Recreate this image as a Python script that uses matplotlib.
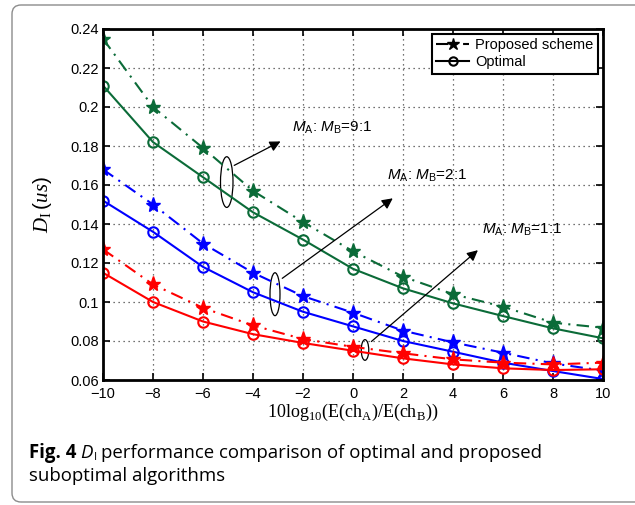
import numpy as np
import matplotlib
matplotlib.use('Agg')
import matplotlib.pyplot as plt
from matplotlib.patches import Ellipse, FancyBboxPatch
from matplotlib.transforms import IdentityTransform

plt.rcParams['font.family'] = ['Liberation Sans', 'DejaVu Sans']
plt.rcParams['mathtext.fontset'] = 'custom'
plt.rcParams['mathtext.rm'] = 'Liberation Sans'
plt.rcParams['mathtext.it'] = 'Liberation Sans:italic'
plt.rcParams['mathtext.sf'] = 'Liberation Serif'
plt.rcParams['mathtext.cal'] = 'Liberation Serif:italic'

# snr ratio in dB
x = [-10, -8, -6, -4, -2, 0, 2, 4, 6, 8, 10]

# M_A:M_B = 9:1
prop_91 = [0.235, 0.200, 0.179, 0.157, 0.141, 0.126, 0.113, 0.104, 0.0976, 0.0894, 0.0868]
opt_91 = [0.211, 0.182, 0.164, 0.146, 0.132, 0.117, 0.107, 0.0993, 0.0928, 0.0865, 0.0814]
# M_A:M_B = 2:1
prop_21 = [0.168, 0.150, 0.130, 0.115, 0.103, 0.0945, 0.0853, 0.0793, 0.0740, 0.0685, 0.0648]
opt_21 = [0.152, 0.136, 0.118, 0.105, 0.095, 0.0875, 0.0800, 0.0745, 0.0689, 0.0646, 0.0605]
# M_A:M_B = 1:1
prop_11 = [0.127, 0.109, 0.097, 0.088, 0.081, 0.077, 0.0737, 0.0706, 0.0689, 0.0680, 0.0689]
opt_11 = [0.115, 0.100, 0.090, 0.0835, 0.079, 0.075, 0.0711, 0.0680, 0.0660, 0.0651, 0.0655]

green = '#0b6b38'
blue = '#0000ff'
red = '#ff0000'

fig = plt.figure(figsize=(6.35, 5.05), dpi=100)

# caption box border
border = FancyBboxPatch((12, 3), 700, 497, boxstyle='round,pad=0,rounding_size=9',
                        transform=IdentityTransform(), fc='none', ec='#8c8c8c', lw=1.0)
fig.patches.append(border)

ax = fig.add_axes([103 / 635, 1 - 380 / 505, 500 / 635, 351 / 505])

for prop, opt, c in [(prop_91, opt_91, green), (prop_21, opt_21, blue), (prop_11, opt_11, red)]:
    ax.plot(x, prop, color=c, lw=1.5, ls=(0, (6, 3, 1, 3)), marker='*', ms=11, mec=c, mfc=c)
    ax.plot(x, opt, '-', color=c, lw=1.5, marker='o', ms=7.5, mfc='none', mec=c, mew=1.5)

# legend handles in black
ax.plot([], [], color='k', lw=1.5, ls=(0, (6, 3, 1, 3)), marker='*', ms=9, label='Proposed scheme')
ax.plot([], [], '-', color='k', lw=1.5, marker='o', ms=6, mfc='none', mew=1.5, label='Optimal')
leg = ax.legend(loc='upper right', fancybox=False, framealpha=1, edgecolor='k',
                fontsize=10.5, borderaxespad=0.35, handlelength=2.3, borderpad=0.3,
                labelspacing=0.2, handletextpad=0.4)
leg.get_frame().set_linewidth(1.5)

ax.set_xlim(-10, 10)
ax.set_ylim(0.06, 0.24)
ax.set_xticks(np.arange(-10, 11, 2))
ax.set_yticks(np.arange(0.06, 0.2401, 0.02))
ax.set_yticklabels(['%g' % round(v, 2) for v in np.arange(0.06, 0.2401, 0.02)])
ax.grid(True, ls=(0, (1, 3)), color='#444444', lw=0.9)
ax.tick_params(direction='in', top=True, right=True, length=5, width=1.2, labelsize=10.5)
ax.tick_params(axis='x', pad=5)
ax.tick_params(axis='y', pad=3)
for s in ax.spines.values():
    s.set_linewidth(2)

ax.set_xlabel(r'10log$_{\mathsf{10}}$(E(ch$_{\mathsf{A}}$)/E(ch$_{\mathsf{B}}$))',
              family='Liberation Serif', fontsize=13, labelpad=1)
ax.set_ylabel(r'$\mathcal{D}_{\mathsf{I}}\,(\mathcal{us})$', fontsize=15, labelpad=12)

# ellipses + arrows
ax.add_patch(Ellipse((-5.05, 0.1615), 0.5, 0.026, fc='none', ec='k', lw=0.9))
ax.annotate('', xy=(-2.8, 0.183), xytext=(-4.85, 0.1694),
            arrowprops=dict(arrowstyle='-|>', color='k', lw=0.9, mutation_scale=16))
ax.text(-2.45, 0.1895, r'$M_{\mathrm{A}}$: $M_{\mathrm{B}}$=9:1', fontsize=11, va='center')

ax.add_patch(Ellipse((-3.12, 0.104), 0.4, 0.022, fc='none', ec='k', lw=0.9))
ax.annotate('', xy=(1.68, 0.154), xytext=(-2.92, 0.1113),
            arrowprops=dict(arrowstyle='-|>', color='k', lw=0.9, mutation_scale=16))
ax.text(1.35, 0.1645, r'$M_{\mathrm{A}}$: $M_{\mathrm{B}}$=2:1', fontsize=11, va='center')

ax.add_patch(Ellipse((0.48, 0.0754), 0.3, 0.0106, fc='none', ec='k', lw=0.9))
ax.annotate('', xy=(5.08, 0.1275), xytext=(0.65, 0.0788),
            arrowprops=dict(arrowstyle='-|>', color='k', lw=0.9, mutation_scale=16))
ax.text(5.15, 0.1372, r'$M_{\mathrm{A}}$: $M_{\mathrm{B}}$=1:1', fontsize=11, va='center')

# caption
cap_fs = 13.4
r = fig.canvas.get_renderer()
y1 = 1 - 453 / 505
y2 = 1 - 476 / 505
t = fig.text(29 / 635, y1, 'Fig. 4', family='Open Sans', weight='bold', fontsize=cap_fs, va='center')
bb = t.get_window_extent(r)
t = fig.text((bb.x1 + 4) / 635, y1, 'D', family='Open Sans', style='italic', fontsize=cap_fs, va='center')
bb = t.get_window_extent(r)
t = fig.text((bb.x1 + 0.5) / 635, y1 - 4 / 505, 'I', family='Open Sans', fontsize=cap_fs * 0.6, va='center')
bb = t.get_window_extent(r)
fig.text((bb.x1 + 4) / 635, y1, 'performance comparison of optimal and proposed',
         family='Open Sans', fontsize=cap_fs, va='center')
fig.text(29 / 635, y2, 'suboptimal algorithms', family='Open Sans', fontsize=cap_fs, va='center')

fig.savefig('out.png', dpi=100)
